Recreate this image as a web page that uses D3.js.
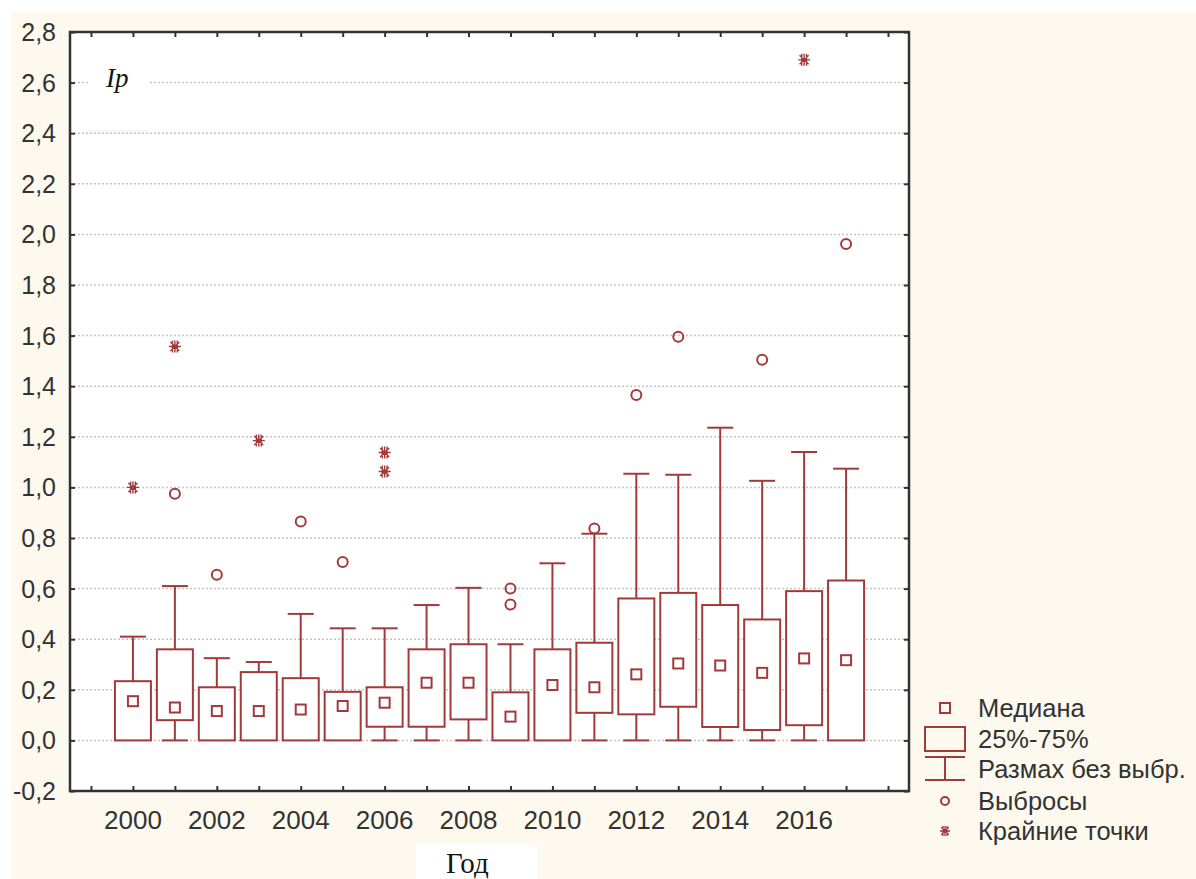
<!DOCTYPE html>
<meta charset="utf-8">
<head>
    <script src="https://d3js.org/d3.v7.min.js"></script>
</head>
<style>
    body { margin: 0; background: #ffffff; }
    svg { display: block; font-family: "Liberation Sans", Arial, sans-serif; }
    .tick-label { fill: #333; }
</style>
<body>
<script>
'use strict';

// values
const years    = [2000, 2001, 2002, 2003, 2004, 2005, 2006, 2007, 2008, 2009, 2010, 2011, 2012, 2013, 2014, 2015, 2016, 2017];
const medians  = [0.155, 0.13, 0.116, 0.116, 0.122, 0.136, 0.149, 0.228, 0.228, 0.094, 0.219, 0.21, 0.261, 0.304, 0.296, 0.267, 0.324, 0.317];
const q1       = [0, 0.08, 0, 0, 0, 0, 0.054, 0.054, 0.083, 0, 0, 0.109, 0.103, 0.133, 0.053, 0.041, 0.06, 0];
const q3       = [0.234, 0.36, 0.21, 0.27, 0.246, 0.192, 0.21, 0.36, 0.38, 0.19, 0.36, 0.386, 0.561, 0.583, 0.535, 0.478, 0.59, 0.632];
const whiskLo  = [0, 0, 0, 0, 0, 0, 0, 0, 0, 0, 0, 0, 0, 0, 0, 0, 0, 0];
const whiskHi  = [0.41, 0.61, 0.325, 0.31, 0.5, 0.443, 0.443, 0.535, 0.603, 0.38, 0.70, 0.817, 1.054, 1.05, 1.236, 1.026, 1.14, 1.074];
const outlierYears  = [2001, 2002, 2004, 2005, 2009, 2009, 2011, 2012, 2013, 2015, 2017];
const outlierValues = [0.975, 0.655, 0.865, 0.705, 0.60, 0.537, 0.838, 1.365, 1.595, 1.505, 1.962];
const extremeYears  = [2000, 2001, 2003, 2006, 2006, 2016];
const extremeValues = [1.0, 1.557, 1.185, 1.138, 1.063, 2.69];
const yTicks = d3.range(-0.2, 2.81, 0.2);
const xLabelYears = [2000, 2002, 2004, 2006, 2008, 2010, 2012, 2014, 2016];
const legendItems = ["Медиана", "25%-75%", "Размах без выбр.", "Выбросы", "Крайние точки"];

const W = 1196, H = 879;
const mLeft = 70, mRight = 909, mTop = 32, mBottom = 791;
const red = "#a33a3a";
const fmt = v => d3.format(".1f")(v).replace(".", ",").replace("−", "-");

const x = d3.scaleLinear().domain([1998.5, 2018.5]).range([mLeft, mRight]);
const y = d3.scaleLinear().domain([-0.2, 2.8]).range([mBottom, mTop]);

const svg = d3.select("body").append("svg").attr("width", W).attr("height", H);

// backgrounds
svg.append("rect").attr("width", W).attr("height", H).attr("fill", "#fff");
svg.append("rect").attr("x", 11).attr("y", 12).attr("width", W - 11).attr("height", H - 12).attr("fill", "#fdf9ee");
svg.append("rect").attr("x", mLeft).attr("y", mTop).attr("width", mRight - mLeft).attr("height", mBottom - mTop).attr("fill", "#fff");

// grid
svg.append("g").selectAll("line").data(yTicks.filter(v => v > -0.1 && v < 2.7)).enter().append("line")
    .attr("x1", mLeft).attr("x2", mRight)
    .attr("y1", d => y(d)).attr("y2", d => y(d))
    .attr("stroke", "#c4c4c4").attr("stroke-width", 1.5).attr("stroke-dasharray", "2,2");

// label box for Ip
svg.append("rect").attr("x", 88).attr("y", 50).attr("width", 60).attr("height", 81).attr("fill", "#fff");
svg.append("line").attr("x1", 88).attr("x2", 148).attr("y1", 131).attr("y2", 131).attr("stroke", "#ececec");
svg.append("text").attr("x", 106).attr("y", 87)
    .style("font-family", "'Liberation Serif', 'Times New Roman', serif").style("font-style", "italic")
    .style("font-size", "27px").attr("fill", "#141414").text("Ip");

// axes: ticks inside, on all four sides
const yAxisL = d3.axisLeft(y).tickValues(yTicks).tickSize(-5).tickFormat("");
const yAxisR = d3.axisRight(y).tickValues(yTicks).tickSize(-5).tickFormat("");
const xAxisB = d3.axisBottom(x).tickValues(d3.range(1999, 2019)).tickSize(-5).tickFormat("");
const xAxisT = d3.axisTop(x).tickValues(d3.range(1999, 2019)).tickSize(-5).tickFormat("");
[[yAxisL, `translate(${mLeft},0)`], [yAxisR, `translate(${mRight},0)`],
 [xAxisB, `translate(0,${mBottom})`], [xAxisT, `translate(0,${mTop})`]].forEach(([ax, tr]) => {
    const g = svg.append("g").attr("transform", tr).call(ax);
    g.select(".domain").remove();
    g.selectAll("line").attr("stroke", "#333").attr("stroke-width", 2);
});
svg.append("rect").attr("x", mLeft).attr("y", mTop).attr("width", mRight - mLeft).attr("height", mBottom - mTop)
    .attr("fill", "none").attr("stroke", "#333").attr("stroke-width", 2.5);

// tick labels
svg.append("g").selectAll("text").data(yTicks).enter().append("text")
    .attr("class", "tick-label")
    .attr("x", 56).attr("y", d => y(d)).attr("dy", "0.36em")
    .attr("text-anchor", "end").style("font-size", "25px")
    .text(d => fmt(Math.abs(d) < 1e-9 ? 0 : d));
svg.append("g").selectAll("text").data(xLabelYears).enter().append("text")
    .attr("class", "tick-label")
    .attr("x", d => x(d)).attr("y", 829)
    .attr("text-anchor", "middle").style("font-size", "26px")
    .text(d => d);

// Год label
svg.append("rect").attr("x", 416).attr("y", 845).attr("width", 121).attr("height", 34).attr("fill", "#fff");
svg.append("text").attr("x", 446).attr("y", 873)
    .style("font-family", "'Liberation Serif', 'Times New Roman', serif")
    .style("font-size", "29px").attr("fill", "#141414").text("Год");

// boxes
const boxW = 36, capW = 26, medS = 10;
const stats = years.map((yr, i) => ({ yr, med: medians[i], q1: q1[i], q3: q3[i], lo: whiskLo[i], hi: whiskHi[i] }));
const bx = svg.append("g").attr("fill", "none").attr("stroke", red).attr("stroke-width", 2);
const g = bx.selectAll("g").data(stats).enter().append("g");
g.append("line").attr("x1", d => x(d.yr)).attr("x2", d => x(d.yr)).attr("y1", d => y(d.q3)).attr("y2", d => y(d.hi));
g.append("line").attr("x1", d => x(d.yr) - capW / 2).attr("x2", d => x(d.yr) + capW / 2).attr("y1", d => y(d.hi)).attr("y2", d => y(d.hi));
g.filter(d => d.lo < d.q1).append("line").attr("x1", d => x(d.yr)).attr("x2", d => x(d.yr)).attr("y1", d => y(d.q1)).attr("y2", d => y(d.lo));
g.filter(d => d.lo < d.q1).append("line").attr("x1", d => x(d.yr) - capW / 2).attr("x2", d => x(d.yr) + capW / 2).attr("y1", d => y(d.lo)).attr("y2", d => y(d.lo));
g.append("rect").attr("x", d => x(d.yr) - boxW / 2).attr("width", boxW)
    .attr("y", d => y(d.q3)).attr("height", d => y(d.q1) - y(d.q3)).attr("fill", "#fff");
g.append("rect").attr("x", d => x(d.yr) - medS / 2).attr("width", medS)
    .attr("y", d => y(d.med) - medS / 2).attr("height", medS);

// outliers and extremes
svg.append("g").selectAll("circle").data(outlierYears.map((yr, i) => [yr, outlierValues[i]])).enter().append("circle")
    .attr("cx", d => x(d[0])).attr("cy", d => y(d[1])).attr("r", 5)
    .attr("fill", "none").attr("stroke", red).attr("stroke-width", 2);

function star(r) {
    const a = r * 0.75, b = r * 0.4;
    return `M0,${-r}V${r}M${-a},${-a}L${a},${a}M${-a},${a}L${a},${-a}M${-r},0H${r}` +
        `M${-b},${-r}V${r}M${b},${-r}V${r}`;
}
svg.append("g").selectAll("path").data(extremeYears.map((yr, i) => [yr, extremeValues[i]])).enter().append("path")
    .attr("transform", d => `translate(${x(d[0])},${y(d[1])})`)
    .attr("d", star(6)).attr("fill", "none").attr("stroke", red).attr("stroke-width", 1.4);

// legend
const lgX = 945, lgText = 978;
const rowY = [708, 739, 769, 801, 831];
const lg = svg.append("g");
lg.selectAll("text").data(legendItems).enter().append("text")
    .attr("x", lgText).attr("y", (d, i) => rowY[i]).attr("dy", "0.36em")
    .style("font-size", "25.5px").attr("fill", "#333").text(d => d);
const ls = lg.append("g").attr("fill", "none").attr("stroke", red).attr("stroke-width", 2);
ls.append("rect").attr("x", lgX - 5).attr("y", rowY[0] - 5).attr("width", 10).attr("height", 10);
ls.append("rect").attr("x", lgX - 20).attr("y", rowY[1] - 12).attr("width", 40).attr("height", 24);
ls.append("path").attr("d", `M${lgX - 20},${rowY[2] - 12}H${lgX + 20}M${lgX},${rowY[2] - 12}V${rowY[2] + 11}M${lgX - 20},${rowY[2] + 11}H${lgX + 20}`);
ls.append("circle").attr("cx", lgX).attr("cy", rowY[3]).attr("r", 4);
ls.append("path").attr("transform", `translate(${lgX},${rowY[4]})`).attr("d", star(5)).attr("stroke-width", 1.3);
</script>
</body>
